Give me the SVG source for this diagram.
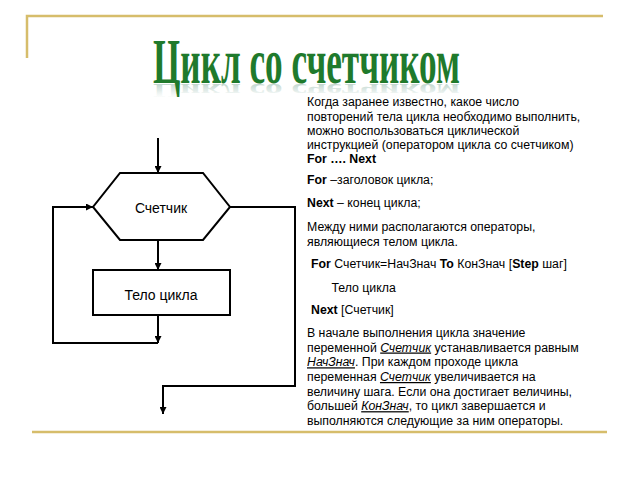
<svg xmlns="http://www.w3.org/2000/svg" width="640" height="480" viewBox="0 0 640 480">
<defs>
<style>
.t{font-family:"Liberation Sans",Arial,sans-serif;font-size:12.3px;fill:#000}
.b{font-weight:bold}
.u{font-style:italic;text-decoration:underline}
.node{fill:#fff;stroke:#000;stroke-width:2}
.lbl{font-family:"Liberation Sans",Arial,sans-serif;font-size:14px;fill:#000;text-anchor:middle}
.conn{fill:none;stroke:#000;stroke-width:2}
.gold{stroke:#d6bd6b;stroke-width:2.5;fill:none}
.title{font-family:"Liberation Serif","Times New Roman",serif;font-size:64px;font-weight:bold}
</style>
<marker id="ah" viewBox="0 0 10 10" refX="10" refY="5" markerWidth="7" markerHeight="7" markerUnits="userSpaceOnUse" orient="auto">
<path d="M0,0 L10,5 L0,10 z" fill="#000"/>
</marker>
<linearGradient id="refl" x1="0" y1="0" x2="0" y2="1">
<stop offset="0" stop-color="#ffffff" stop-opacity="0"/>
<stop offset="0.5" stop-color="#b5cfc6" stop-opacity="0.4"/>
<stop offset="1" stop-color="#7fa99a" stop-opacity="0.7"/>
</linearGradient>
</defs>
<rect width="640" height="480" fill="#fff"/>
<g id="frame">
<path class="gold" d="M27,58 V16 H603"/>
<path class="gold" d="M32,432 H607"/>
</g>
<g id="title">
<text class="title" x="153" y="0" transform="translate(0,84) scale(1,-0.3)" textLength="307" lengthAdjust="spacingAndGlyphs" fill="url(#refl)">Цикл со счетчиком</text>
<text class="title" x="153" y="83" textLength="307" lengthAdjust="spacingAndGlyphs" fill="#1f7a2c">Цикл со счетчиком</text>
</g>
<g id="desc">
<text class="t" x="307" y="106">Когда заранее известно, какое число</text>
<text class="t" x="307" y="120.5">повторений тела цикла необходимо выполнить,</text>
<text class="t" x="307" y="134.8">можно воспользоваться циклической</text>
<text class="t" x="307" y="149">инструкцией (оператором цикла со счетчиком)</text>
<text class="t b" x="307" y="163.3">For …. Next</text>
<text class="t" x="307" y="184"><tspan class="b">For</tspan> –заголовок цикла;</text>
<text class="t" x="307" y="207.3"><tspan class="b">Next</tspan> – конец цикла;</text>
<text class="t" x="307" y="230.7">Между ними располагаются операторы,</text>
<text class="t" x="307" y="245.5">являющиеся телом цикла.</text>
<text class="t" x="311" y="268.3"><tspan class="b">For</tspan> Счетчик=НачЗнач <tspan class="b">To</tspan> КонЗнач [<tspan class="b">Step</tspan> шаг]</text>
<text class="t" x="331.5" y="291.7">Тело цикла</text>
<text class="t" x="311" y="314.3"><tspan class="b">Next</tspan> [Счетчик]</text>
<text class="t" x="307" y="336.7">В начале выполнения цикла значение</text>
<text class="t" x="307" y="351.5">переменной <tspan class="u">Счетчик</tspan> устанавливается равным</text>
<text class="t" x="307" y="366.3"><tspan class="u">НачЗнач</tspan>. При каждом проходе цикла</text>
<text class="t" x="307" y="381"><tspan>переменная </tspan><tspan class="u">Счетчик</tspan> увеличивается на</text>
<text class="t" x="307" y="395.7">величину шага. Если она достигает величины,</text>
<text class="t" x="307" y="410.2">большей <tspan class="u">КонЗнач</tspan>, то цикл завершается и</text>
<text class="t" x="307" y="424.5">выполняются следующие за ним операторы.</text>
</g>
<g id="counter">
<polygon class="node" points="120,173 203,173 230,207 203,240 120,240 93,207"/>
<text class="lbl" x="161" y="213">Счетчик</text>
</g>
<g id="body">
<rect class="node" x="93" y="270" width="137" height="45"/>
<text class="lbl" x="161" y="300">Тело цикла</text>
</g>
<g id="connectors">
<path class="conn" d="M158,138 V173" marker-end="url(#ah)"/>
<path class="conn" d="M158,240 V270" marker-end="url(#ah)"/>
<path class="conn" d="M158,315 V343" marker-end="url(#ah)"/>
<path class="conn" d="M158,343 H53 V207 H93" marker-end="url(#ah)"/>
<path class="conn" d="M230,207 H295 V386 H163 V414" marker-end="url(#ah)"/>
</g>
</svg>
